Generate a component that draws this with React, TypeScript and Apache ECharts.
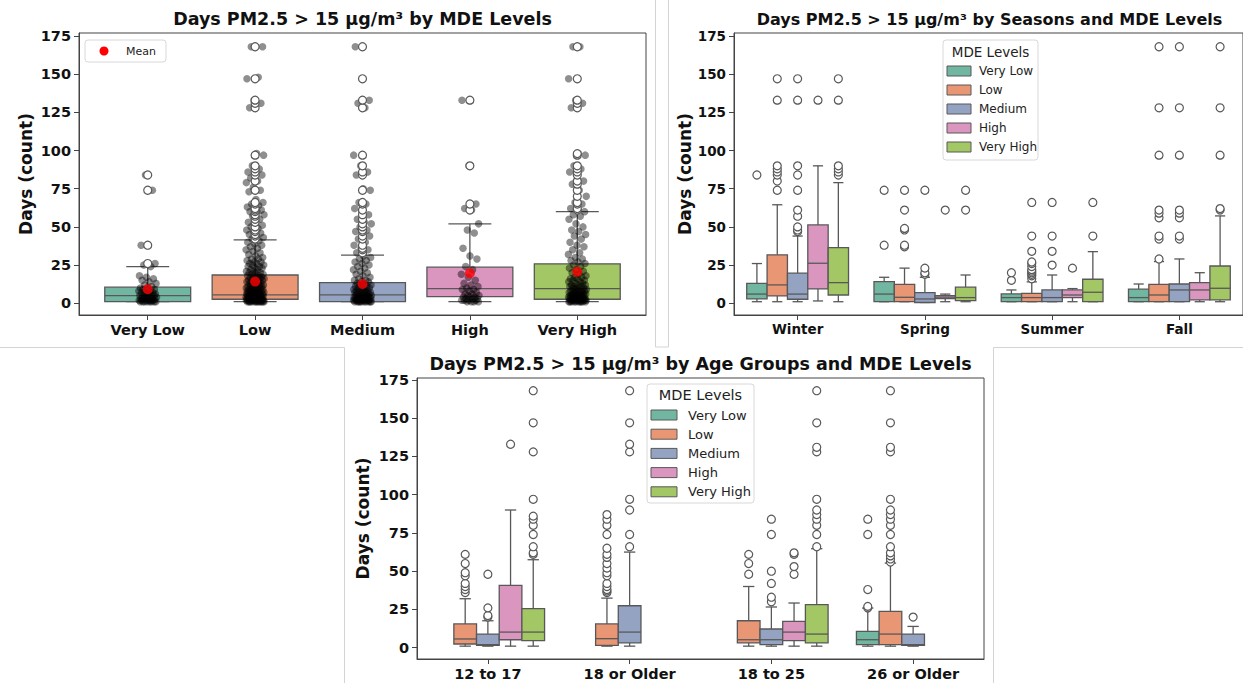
import React, { useEffect, useRef } from "react";
import * as echarts from "echarts";

// ---------- data ----------
const MDE_LEVELS = ["Very Low", "Low", "Medium", "High", "Very High"];
const MDE_COLORS = ["#71b6a1", "#e99675", "#95a3c3", "#db96c0", "#a2c764"];
const Y_TICKS = [0, 25, 50, 75, 100, 125, 150, 175];

// Panel 1: overall by MDE level. stats = [lowWhisker, q1, median, q3, highWhisker]
const LEVEL_STATS = [
  [1, 1, 5, 10.5, 24],
  [1, 2.6, 5.5, 18.5, 41.5],
  [1, 1, 5.5, 13.5, 31.5],
  [1, 4.3, 9.6, 23.6, 52],
  [1, 2.6, 9.6, 25.8, 60],
];
const LEVEL_MEANS = [9.2, 14.2, 12.6, 19.7, 20.7];
const LEVEL_OUTLIERS = [
  [26, 38, 74, 84],
  [42, 44, 45, 47, 48, 50, 53, 55, 57, 58, 60, 61, 62, 65, 66, 74, 80, 84, 86, 88, 90, 97, 128, 131, 133, 147, 168],
  [33, 35, 36, 38, 42, 44, 47, 48, 50, 52, 55, 58, 61, 65, 66, 74, 84, 86, 90, 97, 128, 133, 147, 168],
  [61, 65, 90, 133],
  [61, 62, 65, 66, 70, 74, 78, 80, 84, 86, 88, 90, 97, 98, 128, 131, 133, 147, 168],
];
const VERY_LOW_POINTS = [1, 1, 1, 1, 1, 1, 1, 1, 2, 2, 2, 2, 2, 2, 3, 3, 3, 3, 3, 4, 4, 4, 4, 5, 5, 5, 5, 6, 6, 6, 7, 7, 7, 8, 8, 9, 9, 10, 10, 11, 12, 13, 14, 15, 16, 17, 18, 24, 25, 26, 26, 38, 74, 84];
const LOW_POINTS = [1, 1, 1, 1, 1, 1, 1, 1, 1, 1, 1, 1, 2, 2, 2, 2, 2, 2, 2, 2, 2, 2, 3, 3, 3, 3, 3, 3, 3, 3, 3, 4, 4, 4, 4, 4, 4, 4, 4, 5, 5, 5, 5, 5, 5, 5, 6, 6, 6, 6, 6, 6, 7, 7, 7, 7, 7, 8, 8, 8, 8, 8, 9, 9, 9, 9, 10, 10, 10, 10, 11, 11, 11, 11, 12, 12, 12, 12, 13, 13, 13, 14, 14, 14, 15, 15, 15, 16, 16, 16, 17, 17, 17, 18, 18, 18, 19, 19, 20, 20, 20, 21, 21, 22, 22, 23, 23, 24, 24, 25, 25, 26, 26, 27, 27, 28, 29, 29, 30, 31, 32, 33, 34, 35, 36, 37, 38, 39, 40, 41, 42, 43, 44, 45, 46, 47, 48, 49, 50, 51, 52, 53, 55, 57, 58, 60, 60, 61, 62, 63, 64, 65, 66, 68, 73, 74, 76, 79, 80, 82, 84, 85, 86, 88, 90, 97, 98, 128, 131, 133, 147, 148, 168, 168];
const MEDIUM_POINTS = [1, 1, 1, 1, 1, 1, 1, 1, 1, 1, 2, 2, 2, 2, 2, 2, 2, 2, 3, 3, 3, 3, 3, 3, 3, 4, 4, 4, 4, 4, 4, 5, 5, 5, 5, 5, 6, 6, 6, 6, 7, 7, 7, 7, 8, 8, 8, 9, 9, 9, 10, 10, 10, 11, 11, 12, 12, 13, 13, 14, 14, 15, 15, 16, 17, 18, 19, 20, 21, 22, 23, 24, 25, 26, 27, 28, 29, 30, 31, 33, 35, 36, 38, 40, 42, 44, 45, 47, 48, 50, 52, 53, 55, 58, 60, 62, 65, 66, 74, 75, 84, 86, 90, 97, 128, 131, 133, 147, 168];
const HIGH_POINTS = [1, 1, 1, 1, 2, 2, 2, 2, 3, 3, 3, 4, 4, 4, 5, 5, 6, 6, 7, 8, 9, 9, 10, 11, 12, 13, 15, 17, 19, 22, 24, 29, 31, 36, 46, 48, 52, 61, 62, 65, 90, 133];
const VERY_HIGH_POINTS = [1, 1, 1, 1, 1, 1, 1, 1, 1, 1, 2, 2, 2, 2, 2, 2, 2, 2, 3, 3, 3, 3, 3, 3, 3, 4, 4, 4, 4, 4, 4, 5, 5, 5, 5, 5, 6, 6, 6, 6, 6, 7, 7, 7, 7, 8, 8, 8, 8, 9, 9, 9, 10, 10, 10, 11, 11, 11, 12, 12, 12, 13, 13, 14, 14, 15, 15, 16, 16, 17, 17, 18, 19, 20, 21, 22, 23, 24, 25, 26, 27, 28, 29, 30, 32, 33, 35, 37, 38, 40, 42, 44, 45, 47, 48, 50, 52, 55, 57, 58, 60, 61, 62, 65, 66, 70, 74, 78, 80, 84, 86, 88, 90, 97, 98, 128, 131, 133, 147, 168, 168];
const LEVEL_POINTS = [VERY_LOW_POINTS, LOW_POINTS, MEDIUM_POINTS, HIGH_POINTS, VERY_HIGH_POINTS];

// Panel 2: seasons x MDE level
const SEASONS = ["Winter", "Spring", "Summer", "Fall"];
const SEASON_STATS = [
  [[1, 2.8, 6, 13, 26], [1, 4.8, 12, 31.7, 64.5], [1, 2.6, 6, 19.7, 44], [1.5, 9.4, 26.2, 51.3, 90], [1, 5.4, 13.5, 36.4, 79]],
  [[1, 1, 6, 14.2, 17], [1, 1, 3.9, 12.4, 23], [0.5, 0.5, 2.8, 7, 17], [1, 3, 4, 5, 6], [1, 1.7, 3.7, 10.5, 18.5]],
  [[1, 1, 3.7, 6.1, 8.7], [1, 1, 3.7, 6.5, 14], [1, 1, 3.7, 8.7, 18.5], [1, 3.7, 5.4, 8.7, 9.6], [1, 1, 7.2, 15.7, 33.8]],
  [[1, 1, 3.7, 9.2, 12.6], [1, 1, 5.4, 12.4, 27.3], [1, 1, 8.7, 12.6, 29], [1, 2.2, 8.7, 13.5, 20], [1, 2.2, 9.8, 24.4, 57.2]],
];
const SEASON_OUTLIERS = [
  [[84], [74, 80, 84, 86, 88, 90, 133, 147], [47, 48, 50, 57, 61, 74, 84, 90, 133, 147], [133], [84, 86, 88, 90, 133, 147]],
  [[38, 74], [37, 38, 48, 49, 61, 74], [19, 20, 23, 74], [61], [61, 74]],
  [[15, 20], [16, 18, 19, 20, 21, 22, 24, 26, 27, 34, 44, 66], [25, 34, 44, 66], [23], [44, 66]],
  [[], [29, 42, 44, 56, 59, 61, 97, 128, 168], [42, 44, 56, 59, 61, 97, 128, 168], [], [61, 62, 97, 128, 168]],
];

// Panel 3: age groups x MDE level (null = no data)
const AGE_GROUPS = ["12 to 17", "18 or Older", "18 to 25", "26 or Older"];
const AGE_STATS = [
  [null, [1, 2.4, 5.7, 15.5, 32], [1, 1.5, 2, 8.9, 17.6], [1, 5.2, 10.2, 40.7, 90], [1, 4.6, 10.2, 25.5, 57.5]],
  [null, [1, 1.5, 5.9, 15.5, 32.4], [1, 3.1, 10.2, 27.4, 62.5], null, null],
  [null, [1, 3.1, 5.2, 17.6, 40], [1, 2, 5.2, 12.2, 26.6], [1, 4.6, 10.2, 17.2, 29.2], [1, 3.1, 8.9, 28.1, 64.7]],
  [[1, 2, 5.2, 10.7, 25.9], [1, 2, 8.9, 23.7, 55.3], [1, 1.5, 2, 8.9, 13.9], null, null],
];
const AGE_OUTLIERS = [
  [[], [36, 38, 40, 42, 47, 49, 55, 61], [20, 21, 26, 48], [133], [61, 62, 66, 74, 80, 84, 86, 97, 128, 147, 168]],
  [[], [36, 37, 38, 40, 42, 47, 49, 52, 55, 59, 61, 65, 74, 80, 84, 87], [66, 74, 90, 97, 128, 133, 147, 168], [], []],
  [[], [48, 55, 61], [30, 33, 42, 50, 74, 84], [48, 53, 61, 62], [66, 74, 80, 84, 87, 90, 97, 128, 131, 147, 168]],
  [[26, 27, 38, 74, 84], [56, 58, 60, 62, 66, 74, 80, 84, 87, 90, 97, 128, 131, 147, 168], [20], [], []],
];

// ---------- styling / layout ----------
const EDGE = "#585858";
const FONT = '"DejaVu Sans", Verdana, sans-serif';
const HUE_OFFSETS = [-0.32, -0.16, 0, 0.16, 0.32];

function boxSeries(gridIndex: number, data: number[][], hw: number) {
  return {
    type: "custom",
    xAxisIndex: gridIndex,
    yAxisIndex: gridIndex,
    z: 2,
    silent: true,
    data,
    renderItem: (_p: any, api: any) => {
      const x = api.value(0);
      const lo = api.value(1), q1 = api.value(2), med = api.value(3), q3 = api.value(4), hi = api.value(5);
      const ci = api.value(6);
      const tl = api.coord([x - hw, q3]);
      const br = api.coord([x + hw, q1]);
      const pLo = api.coord([x, lo]);
      const pHi = api.coord([x, hi]);
      const pMed = api.coord([x, med]);
      const capL = api.coord([x - hw / 2, hi])[0];
      const capR = api.coord([x + hw / 2, hi])[0];
      const ls = { stroke: EDGE, lineWidth: 1.3 };
      return {
        type: "group",
        children: [
          { type: "line", shape: { x1: pHi[0], y1: pHi[1], x2: pHi[0], y2: tl[1] }, style: ls },
          { type: "line", shape: { x1: pLo[0], y1: pLo[1], x2: pLo[0], y2: br[1] }, style: ls },
          { type: "line", shape: { x1: capL, y1: pHi[1], x2: capR, y2: pHi[1] }, style: ls },
          { type: "line", shape: { x1: capL, y1: pLo[1], x2: capR, y2: pLo[1] }, style: ls },
          {
            type: "rect",
            shape: { x: tl[0], y: tl[1], width: br[0] - tl[0], height: br[1] - tl[1] },
            style: { fill: MDE_COLORS[ci], stroke: EDGE, lineWidth: 1.3 },
          },
          { type: "line", shape: { x1: tl[0], y1: pMed[1], x2: br[0], y2: pMed[1] }, style: ls },
        ],
      };
    },
  };
}

function outlierSeries(gridIndex: number, data: number[][]) {
  return {
    type: "scatter",
    xAxisIndex: gridIndex,
    yAxisIndex: gridIndex,
    z: 4,
    silent: true,
    symbol: "circle",
    symbolSize: 8,
    itemStyle: { color: "#ffffff", borderColor: EDGE, borderWidth: 1.2, opacity: 1 },
    data,
  };
}

function xAxis(gridIndex: number, names: string[], min: number, max: number, fontSize: number) {
  const vals = names.map((_, i) => i);
  return {
    type: "value",
    gridIndex,
    min,
    max,
    splitLine: { show: false },
    axisLine: { show: true, onZero: false, lineStyle: { color: "#444", width: 1 } },
    axisTick: { show: true, customValues: vals, length: 5, lineStyle: { color: "#444" } },
    axisLabel: {
      customValues: vals,
      formatter: (v: number) => names[Math.round(v)] ?? "",
      fontFamily: FONT,
      fontWeight: "bold",
      fontSize,
      color: "#111",
      margin: 7,
    },
  };
}

function yAxis(gridIndex: number, min: number, max: number, nameGap: number, fontSize: number) {
  return {
    type: "value",
    gridIndex,
    min,
    max,
    name: "Days (count)",
    nameLocation: "middle",
    nameGap,
    nameTextStyle: { fontFamily: FONT, fontWeight: "bold", fontSize: 17, color: "#111" },
    splitLine: { show: false },
    axisLine: { show: true, onZero: false, lineStyle: { color: "#444", width: 1 } },
    axisTick: { show: true, customValues: Y_TICKS, length: 5, lineStyle: { color: "#444" } },
    axisLabel: {
      customValues: Y_TICKS,
      fontFamily: FONT,
      fontWeight: "bold",
      fontSize,
      color: "#111",
      margin: 8,
    },
  };
}

function legendGroup(x: number, y: number, w: number, h: number, titleY: number, rowY0: number, rowStep: number, swW: number, labelX: number, fs: number, tfs: number) {
  const children: any[] = [
    { type: "rect", shape: { x, y, width: w, height: h, r: 3 }, style: { fill: "#ffffff", stroke: "#d8d8d8", lineWidth: 1 } },
    { type: "text", x: x + w / 2, y: titleY, style: { text: "MDE Levels", font: `${tfs}px ${FONT}`, fill: "#222", textAlign: "center", textVerticalAlign: "middle" } },
  ];
  MDE_LEVELS.forEach((name, i) => {
    const ry = rowY0 + i * rowStep;
    children.push({ type: "rect", shape: { x: x + 4, y: ry - 5, width: swW, height: 10 }, style: { fill: MDE_COLORS[i], stroke: EDGE, lineWidth: 1 } });
    children.push({ type: "text", x: labelX, y: ry, style: { text: name, font: `${fs}px ${FONT}`, fill: "#222", textAlign: "left", textVerticalAlign: "middle" } });
  });
  return { type: "group", children };
}

function buildOption() {
  // panel 1
  const p1Boxes = LEVEL_STATS.map((s, i) => [i, ...s, i]);
  const p1Out: number[][] = [];
  LEVEL_OUTLIERS.forEach((arr, i) => arr.forEach((v) => p1Out.push([i, v])));
  const p1Pts: number[][] = [];
  LEVEL_POINTS.forEach((arr, i) =>
    arr.forEach((v, k) => {
      const jitter = (((k + 1) * 0.6180339887 + i * 0.37) % 1 - 0.5) * 0.17;
      p1Pts.push([i + jitter, v]);
    })
  );
  const p1Means = LEVEL_MEANS.map((m, i) => [i, m]);

  // panels 2 & 3
  const grouped = (stats: any[][], outs: number[][][]) => {
    const boxes: number[][] = [];
    const pts: number[][] = [];
    stats.forEach((row, c) =>
      row.forEach((s: number[] | null, h: number) => {
        if (!s) return;
        const x = c + HUE_OFFSETS[h];
        boxes.push([x, ...s, h]);
        outs[c][h].forEach((v) => pts.push([x, v]));
      })
    );
    return { boxes, pts };
  };
  const p2 = grouped(SEASON_STATS, SEASON_OUTLIERS);
  const p3 = grouped(AGE_STATS, AGE_OUTLIERS);

  const sep = { stroke: "#d4d4d4", lineWidth: 1 };

  return {
    animation: false,
    backgroundColor: "#ffffff",
    grid: [
      { left: 79, top: 33, width: 567, height: 282, show: true, borderColor: "#444", borderWidth: 1, backgroundColor: "transparent" },
      { left: 734, top: 33, width: 511, height: 282, show: true, borderColor: "#444", borderWidth: 1, backgroundColor: "transparent" },
      { left: 417, top: 378, width: 567, height: 281, show: true, borderColor: "#444", borderWidth: 1, backgroundColor: "transparent" },
    ],
    xAxis: [
      xAxis(0, MDE_LEVELS, -0.64, 4.64, 14.5),
      xAxis(1, SEASONS, -0.5, 3.5, 13.5),
      xAxis(2, AGE_GROUPS, -0.5, 3.5, 14.5),
    ],
    yAxis: [yAxis(0, -7.7, 177, 45, 14.5), yAxis(1, -7.7, 177, 41, 13.5), yAxis(2, -7.4, 176.3, 46, 14.5)],
    series: [
      boxSeries(0, p1Boxes, 0.4),
      {
        type: "scatter",
        xAxisIndex: 0,
        yAxisIndex: 0,
        z: 3,
        silent: true,
        symbolSize: 7.5,
        itemStyle: { color: "rgba(0,0,0,0.55)" },
        data: p1Pts,
      },
      outlierSeries(0, p1Out),
      {
        type: "scatter",
        xAxisIndex: 0,
        yAxisIndex: 0,
        z: 5,
        silent: true,
        symbolSize: 10,
        itemStyle: { color: "#ff0000" },
        data: p1Means,
      },
      boxSeries(1, p2.boxes, 0.08),
      outlierSeries(1, p2.pts),
      boxSeries(2, p3.boxes, 0.08),
      outlierSeries(2, p3.pts),
    ],
    graphic: [
      // frame lines of the composite picture
      { type: "line", shape: { x1: 655.5, y1: 0, x2: 655.5, y2: 347 }, style: sep, silent: true },
      { type: "line", shape: { x1: 668.5, y1: 0, x2: 668.5, y2: 347 }, style: sep, silent: true },
      { type: "line", shape: { x1: 655.5, y1: 347, x2: 668.5, y2: 347 }, style: sep, silent: true },
      { type: "line", shape: { x1: 0, y1: 347.5, x2: 344.5, y2: 347.5 }, style: sep, silent: true },
      { type: "line", shape: { x1: 344.5, y1: 347.5, x2: 344.5, y2: 683 }, style: sep, silent: true },
      { type: "line", shape: { x1: 993.5, y1: 347.5, x2: 1243, y2: 347.5 }, style: sep, silent: true },
      { type: "line", shape: { x1: 993.5, y1: 347.5, x2: 993.5, y2: 683 }, style: sep, silent: true },
      // titles
      { type: "text", x: 362.5, y: 19, style: { text: "Days PM2.5 > 15 µg/m³ by MDE Levels", font: `bold 17.5px ${FONT}`, fill: "#111", textAlign: "center", textVerticalAlign: "middle" } },
      { type: "text", x: 989.5, y: 19, style: { text: "Days PM2.5 > 15 µg/m³ by Seasons and MDE Levels", font: `bold 16px ${FONT}`, fill: "#111", textAlign: "center", textVerticalAlign: "middle" } },
      { type: "text", x: 700.5, y: 364, style: { text: "Days PM2.5 > 15 µg/m³ by Age Groups and MDE Levels", font: `bold 17.5px ${FONT}`, fill: "#111", textAlign: "center", textVerticalAlign: "middle" } },
      // legend panel 1
      {
        type: "group",
        children: [
          { type: "rect", shape: { x: 85, y: 40, width: 81, height: 22, r: 3 }, style: { fill: "#ffffff", stroke: "#d8d8d8", lineWidth: 1 } },
          { type: "circle", shape: { cx: 104, cy: 51, r: 4.5 }, style: { fill: "#ff0000" } },
          { type: "text", x: 126, y: 51, style: { text: "Mean", font: `11px ${FONT}`, fill: "#222", textAlign: "left", textVerticalAlign: "middle" } },
        ],
      },
      legendGroup(943, 40, 95, 120, 52, 71, 19, 24, 979, 12, 13.5),
      legendGroup(647, 384, 107, 119, 395, 415, 19.2, 26, 688, 13, 14.5),
    ],
  };
}

export default function App() {
  const ref = useRef<HTMLDivElement>(null);
  useEffect(() => {
    if (!ref.current) return;
    const chart = echarts.init(ref.current, null, { renderer: "svg" });
    chart.setOption(buildOption() as any);
    return () => chart.dispose();
  }, []);
  return <div ref={ref} style={{ position: "absolute", left: 0, top: 0, width: 1243, height: 683 }} />;
}
